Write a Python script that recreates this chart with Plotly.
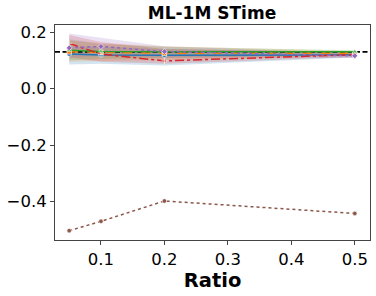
import plotly.graph_objects as go

ratios = [0.05, 0.1, 0.2, 0.5]

series_names = ["A", "B", "C", "D", "E", "F"]
series_colors = ["#1f77b4", "#ff7f0e", "#2ca02c", "#d62728", "#9467bd", "#8c564b"]
series_dash = ["solid", "dash", "solid", "dashdot", "dot", "dot"]
series_symbols = ["circle", "square", "triangle-up", "cross-thin", "diamond", "circle"]

vals_a = [0.122, 0.119, 0.118, 0.119]
vals_b = [0.130, 0.128, 0.125, 0.125]
vals_c = [0.136, 0.131, 0.130, 0.130]
vals_d = [0.160, 0.122, 0.098, 0.120]
vals_e = [0.144, 0.149, 0.131, 0.116]
vals_f = [-0.503, -0.470, -0.398, -0.442]

lo_a = [0.085, 0.088, 0.082, 0.110]
hi_a = [0.150, 0.148, 0.140, 0.128]
lo_b = [0.095, 0.098, 0.100, 0.115]
hi_b = [0.170, 0.160, 0.150, 0.133]
lo_c = [0.100, 0.105, 0.108, 0.118]
hi_c = [0.175, 0.158, 0.148, 0.136]
lo_d = [0.110, 0.095, 0.088, 0.112]
hi_d = [0.190, 0.165, 0.140, 0.130]
lo_e = [0.110, 0.115, 0.110, 0.108]
hi_e = [0.195, 0.180, 0.150, 0.126]

baseline = 0.13

x_ticks = [0.1, 0.2, 0.3, 0.4, 0.5]
y_ticks = [0.2, 0.0, -0.2, -0.4]
y_ticktext = ["0.2", "0.0", "\u22120.2", "\u22120.4"]

vals = [vals_a, vals_b, vals_c, vals_d, vals_e, vals_f]
los = [lo_a, lo_b, lo_c, lo_d, lo_e, None]
his = [hi_a, hi_b, hi_c, hi_d, hi_e, None]

X_RANGE = [0.0276, 0.524]
Y_RANGE = [-0.536, 0.225]


def rgba(hexc, a):
    h = hexc.lstrip("#")
    r, g, b = int(h[0:2], 16), int(h[2:4], 16), int(h[4:6], 16)
    return f"rgba({r},{g},{b},{a})"


fig = go.Figure()
for name, c, lo, hi in zip(series_names, series_colors, los, his):
    if lo is None:
        continue
    fig.add_trace(go.Scatter(x=ratios, y=hi, mode="lines", line=dict(width=0),
                             showlegend=False, hoverinfo="skip"))
    fig.add_trace(go.Scatter(x=ratios, y=lo, mode="lines", line=dict(width=0),
                             fill="tonexty", fillcolor=rgba(c, 0.2),
                             showlegend=False, hoverinfo="skip"))

fig.add_trace(go.Scatter(x=X_RANGE, y=[baseline, baseline], mode="lines",
                         line=dict(color="black", dash="5px,2.5px", width=1.6),
                         showlegend=False))

for name, c, d, s, v in zip(series_names, series_colors, series_dash, series_symbols, vals):
    fig.add_trace(go.Scatter(x=ratios, y=v, mode="lines+markers", name=name,
                             line=dict(color=c, dash=d, width=1.5),
                             marker=dict(symbol=s, size=4.5, color=c,
                                         line=dict(color="white", width=0.6)),
                             showlegend=False))

fig.update_layout(
    width=376, height=296,
    margin=dict(l=55, r=6, t=25, b=56, autoexpand=False),
    paper_bgcolor="white", plot_bgcolor="white",
    font=dict(family="DejaVu Sans", color="black"),
    title=dict(text="<b>ML-1M STime</b>", x=212 / 376, xanchor="center",
               y=1 - 13 / 296, yanchor="middle", font=dict(size=17)),
    xaxis=dict(range=X_RANGE, tickvals=x_ticks,
               ticktext=[str(t) for t in x_ticks], ticks="outside",
               ticklen=4, tickcolor="#444", showgrid=False, zeroline=False,
               showline=True, mirror=True, linecolor="#444", linewidth=1,
               tickfont=dict(size=16.5),
               title=dict(text="<b>Ratio</b>", font=dict(size=19.5), standoff=0)),
    yaxis=dict(range=Y_RANGE, tickvals=y_ticks, ticktext=y_ticktext,
               ticks="outside", ticklen=4, tickcolor="#444", showgrid=False,
               zeroline=False, showline=True, mirror=True, linecolor="#444",
               linewidth=1, tickfont=dict(size=16.5)),
)

fig.write_html("out.html", config={"displayModeBar": False},
               post_script="document.body.style.margin='0';")
